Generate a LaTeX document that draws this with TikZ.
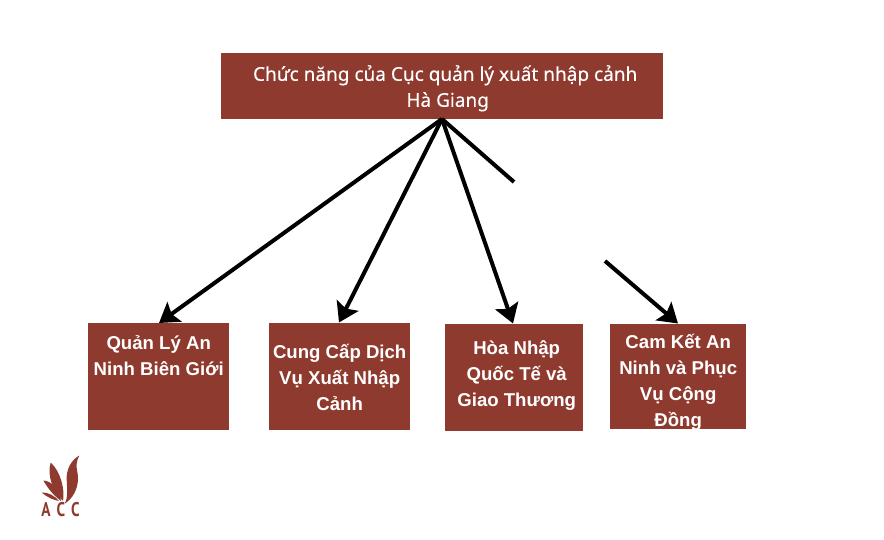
\documentclass[tikz,border=0pt]{standalone}
\usepackage{fontspec}
\setmainfont{Liberation Sans}
\newfontfamily\titlefont[FakeBold=0.25]{Noto Sans}
\newfontfamily\logofont{PT Sans}
\usetikzlibrary{arrows.meta}
\definecolor{brick}{HTML}{8F3A2F}
\newcommand{\boxtext}[4]{\parbox[c][#2pt][t]{#1pt}{\centering\vspace*{#3pt}#4\par}}
\tikzset{
  box/.style={fill=brick,text=white,inner sep=0pt,anchor=north west,font=\bfseries\fontsize{18.6}{26}\selectfont},
  titlebox/.style={box,font=\titlefont\fontsize{19}{26}\selectfont},
  link/.style={line width=4pt,black},
  arrowlink/.style={link,-{Stealth[length=19pt,width=24pt,inset=3.5pt]}},
  leaf/.style={fill=brick,draw=none},
  logotext/.style={text=brick,inner sep=0pt,font=\logofont\bfseries\fontsize{18}{18}\selectfont}
}
\begin{document}
\begin{tikzpicture}[x=1pt,y=-1pt]
\useasboundingbox (0,0) rectangle (884,540);
\node[titlebox] (top) at (221,53) {\boxtext{442}{66}{12}{\hspace*{6pt}Chức năng của Cục quản lý xuất nhập cảnh\\\hspace*{11pt}Hà Giang}};
\node[box] (b1) at (88,323) {\boxtext{141}{107}{12}{Quản Lý An\\Ninh Biên Giới}};
\node[box] (b2) at (269,322.5) {\boxtext{141}{107.5}{22}{Cung Cấp Dịch\\Vụ Xuất Nhập\\Cảnh}};
\node[box] (b3) at (445,323.5) {\boxtext{138}{107}{17}{\hspace*{5pt}Hòa Nhập\\\hspace*{5pt}Quốc Tế và\\\hspace*{5pt}Giao Thương}};
\node[box] (b4) at (610,323.5) {\boxtext{136}{105.5}{10.5}{Cam Kết An\\Ninh và Phục\\Vụ Cộng\\Đồng}};
\coordinate (apex) at (442,119);
\coordinate (gapa) at (514,182);
\coordinate (gapb) at (605,261);
\coordinate (e1) at (159,323);
\coordinate (e2) at (339,322.5);
\coordinate (e3) at (513,323.5);
\coordinate (e4) at (678,323.5);
\draw[arrowlink] (apex) -- (e1);
\draw[arrowlink] (apex) -- (e2);
\draw[arrowlink] (apex) -- (e3);
\draw[link] (apex) -- (gapa);
\draw[arrowlink] (gapb) -- (e4);
% logo
\fill[leaf] (79.3,455.5) .. controls (71,460) and (66,470) .. (66.7,480) .. controls (67.2,490) and (68,497) .. (65,503.5) .. controls (72,499) and (78,490) .. (78,478) .. controls (78,470) and (74,466) .. cycle;
\fill[leaf] (50.7,462.5) .. controls (47,475) and (52,490) .. (63,501) .. controls (65,490) and (61,472) .. cycle;
\fill[leaf] (43.3,480.5) .. controls (50,492) and (56,497) .. (61,501) .. controls (60,490) and (52,481) .. cycle;
\fill[leaf] (41.7,492.5) .. controls (48,498) and (54,500) .. (59,501) .. controls (55,496) and (48,492) .. cycle;
\node[logotext,anchor=base] (logoa) at (46,516) {\scalebox{0.85}[1.1]{A}};
\node[logotext,anchor=base] (logob) at (61,516) {\scalebox{0.85}[1.1]{C}};
\node[logotext,anchor=base] (logoc) at (75.5,516) {\scalebox{0.85}[1.1]{C}};
\end{tikzpicture}
\end{document}
